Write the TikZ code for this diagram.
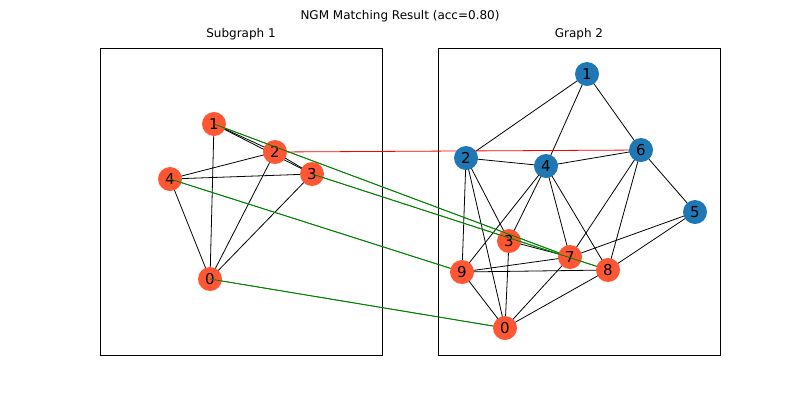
\documentclass[tikz,border=0pt]{standalone}
\usepackage{fontspec}
\setmainfont{DejaVu Sans}
\begin{document}
\begin{tikzpicture}[x=1pt,y=-1pt,
 o/.style={circle,fill=or,minimum size=24pt,inner sep=0pt,font=\fontsize{15}{15}\selectfont},
 b/.style={o,fill=bl},
 e/.style={black,line width=0.8pt},
 m/.style={green!50!black,line width=0.8pt},
 w/.style={red,line width=0.8pt},
 t/.style={font=\fontsize{12}{12}\selectfont}]
\definecolor{or}{HTML}{FF5733}\definecolor{bl}{HTML}{1F77B4}
\useasboundingbox (0,0) rectangle (800,400);
\node[t] (T) at (400,16) {NGM Matching Result (acc=0.80)};
\node[t] (Ta) at (241,34) {Subgraph 1};
\node[t] (Tb) at (579,34) {Graph 2};
\draw[line width=0.6pt] (100,48) rectangle (382,355);
\draw[line width=0.6pt] (438,48) rectangle (720,355);
% left coords
\coordinate (a1) at (214,124);\coordinate (a2) at (275,152);\coordinate (a3) at (312,174);
\coordinate (a4) at (170,179);\coordinate (a0) at (210,279);
% right coords
\coordinate (b1) at (587,74);\coordinate (b2) at (466,158);\coordinate (b4) at (546,166);
\coordinate (b6) at (641,150);\coordinate (b5) at (695,212);\coordinate (b3) at (509,241);
\coordinate (b7) at (570,257);\coordinate (b8) at (608,270);\coordinate (b9) at (462,272);
\coordinate (b0) at (505,328);
\foreach \u/\v in {1/2,1/3,2/3,1/0,2/4,4/3,2/0,3/0,4/0} \draw[e] (a\u) -- (a\v);
\foreach \u/\v in {1/2,1/4,1/6,2/4,4/6,6/5,2/9,2/0,2/3,4/9,4/3,4/7,4/8,6/7,6/8,5/7,5/8,9/7,9/8,9/0,3/0,3/7,7/0,8/0} \draw[e] (b\u) -- (b\v);
\draw[w] (a2) -- (b6);
\foreach \u/\v in {1/7,3/8,4/9,0/0} \draw[m] (a\u) -- (b\v);
\foreach \i in {1,2,3,4,0} \node[o] (A\i) at (a\i) {\i};
\foreach \i in {1,2,4,6,5} \node[b] (B\i) at (b\i) {\i};
\foreach \i in {3,7,8,9,0} \node[o] (B\i) at (b\i) {\i};
\foreach \u/\v in {1/7,3/8,4/9,0/0} \draw[m] (A\u.center) -- (B\v);
\end{tikzpicture}
\end{document}
